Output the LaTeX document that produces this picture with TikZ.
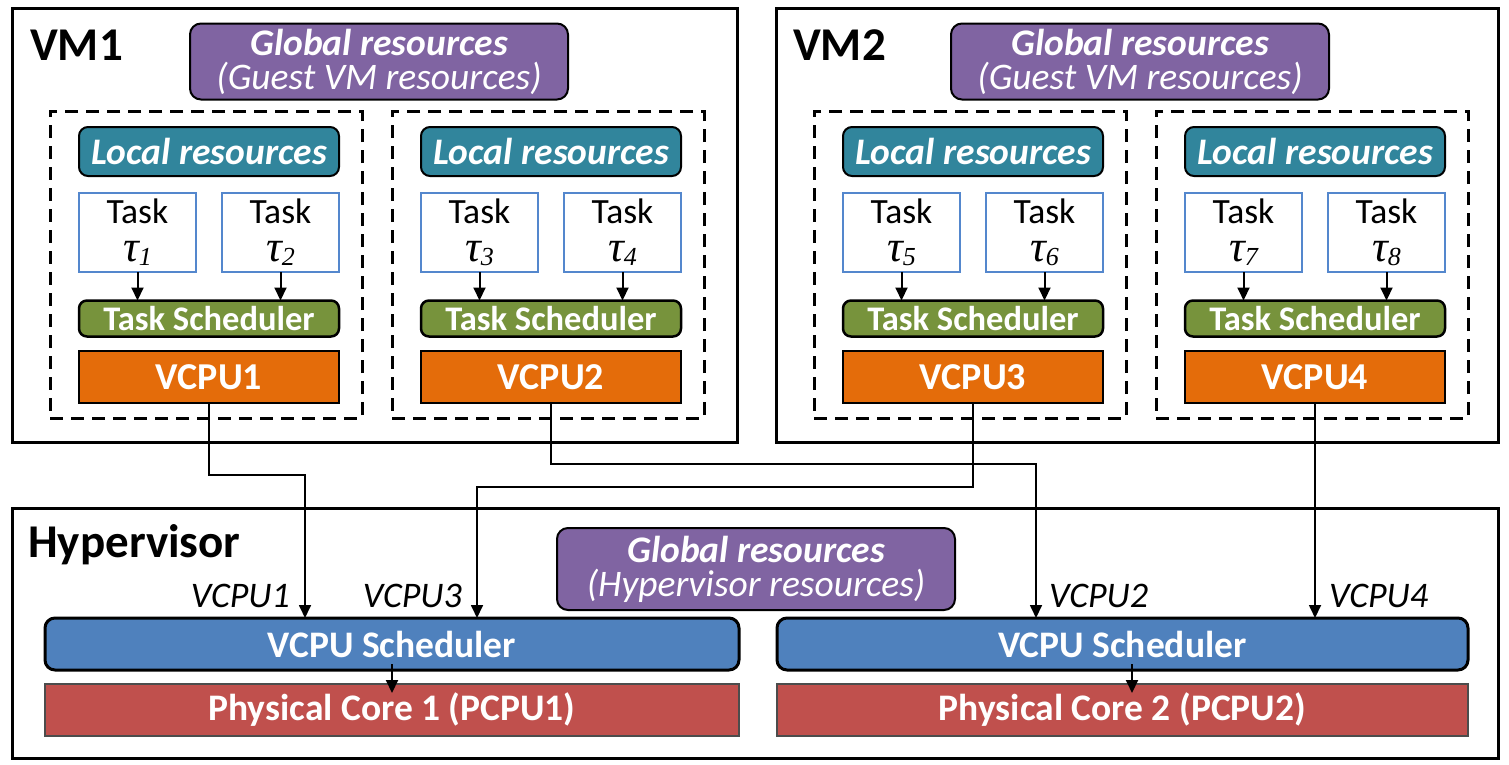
\documentclass[tikz,border=0pt]{standalone}
\usepackage{fontspec}
\setmainfont{Carlito}
\newfontfamily\tms{Liberation Serif}
\usetikzlibrary{arrows.meta}

\definecolor{glob}{RGB}{128,100,162}
\definecolor{locl}{RGB}{49,133,156}
\definecolor{tsch}{RGB}{119,147,60}
\definecolor{vcpu}{RGB}{228,108,10}
\definecolor{vsch}{RGB}{79,129,189}
\definecolor{pcpu}{RGB}{192,80,77}
\definecolor{tbord}{RGB}{84,135,205}

\newcommand{\fs}[1]{\fontsize{#1}{#1}\selectfont}

\tikzset{
  box/.style={inner sep=0pt, outer sep=0pt, anchor=center},
  outerbox/.style={box, draw=black, line width=3pt},
  dashbox/.style={box, draw=black, line width=3pt, dash pattern=on 13pt off 8pt},
  globbox/.style={box, draw=black, line width=2pt, fill=glob, rounded corners=11pt,
    minimum width=378pt, minimum height=76pt, text=white, align=center,
    font=\fontsize{37.5}{34}\selectfont},
  loclbox/.style={box, draw=black, line width=2pt, fill=locl, rounded corners=9pt,
    minimum width=260pt, minimum height=49pt, text=white,
    font=\fs{37.5}\bfseries\itshape},
  taskbox/.style={box, draw=tbord, line width=2pt, fill=white,
    minimum width=117pt, minimum height=79pt, align=center,
    font=\fontsize{35.5}{38}\selectfont},
  tschbox/.style={box, draw=black, line width=2.5pt, fill=tsch, rounded corners=8pt,
    minimum width=260pt, minimum height=36pt, text=white, font=\fs{34.5}\bfseries},
  vcpubox/.style={box, draw=black, line width=2.5pt, fill=vcpu,
    minimum width=260pt, minimum height=52pt, text=white, font=\fs{38}\bfseries},
  vschbox/.style={box, draw=black, line width=3pt, fill=vsch, rounded corners=10pt,
    minimum height=52pt, text=white, font=\fs{37.5}\bfseries},
  pcpubox/.style={box, draw=black!70, line width=1.5pt, fill=pcpu,
    minimum height=52pt, text=white, font=\fs{37.5}\bfseries},
  title/.style={inner sep=0pt, anchor=base west, font=\fs{47}\bfseries},
  vlabel/.style={inner sep=0pt, font=\fs{36}\itshape},
  tip/.style={-{Triangle[length=13pt,width=12pt]}},
  conn/.style={line width=1.7pt, tip},
  tarrow/.style={line width=2pt, tip},
}

\newcommand{\glob}[1]{{\bfseries\itshape Global resources}\\{\itshape (#1)}}
\newcommand{\task}[1]{Task\\{\tms\itshape\fontsize{44}{38}\selectfont τ\raisebox{-4pt}{\fontsize{26}{26}\selectfont #1}}}

\begin{document}
\begin{tikzpicture}[x=1pt,y=-1pt]
\useasboundingbox (0,0) rectangle (1509,764);

% outer frames
\node[outerbox, minimum width=725pt, minimum height=434pt] (vm1) at (374.5,225) {};
\node[outerbox, minimum width=722pt, minimum height=434pt] (vm2) at (1137,225) {};
\node[outerbox, minimum width=1486pt, minimum height=250pt] (hyp) at (755,633) {};

\node[title] (vm1t) at (30,60) {VM1};
\node[title] (vm2t) at (793,60) {VM2};
\node[title] (hypt) at (28,557) {Hypervisor};

% global resource boxes
\node[globbox] (g1) at (379,61.5) {\glob{Guest VM resources}};
\node[globbox] (g2) at (1140,61.5) {\glob{Guest VM resources}};
\node[globbox, minimum width=398pt, minimum height=82pt] (g3) at (756,569) {\glob{Hypervisor resources}};

% one column per VCPU: local resources, two tasks, task scheduler, VCPU
\foreach \L/\a/\b/\v in {79/1/2/1, 421/3/4/2, 843/5/6/3, 1185/7/8/4} {
  \node[dashbox, minimum width=312pt, minimum height=307pt] (col\v) at (\L+127,264.5) {};
  \node[loclbox] (lr\v) at (\L+130,151.5) {Local resources};
  \node[taskbox] (t\a) at (\L+58.5,232.5) {\task{\a}};
  \node[taskbox] (t\b) at (\L+201.5,232.5) {\task{\b}};
  \node[tschbox] (ts\v) at (\L+130,318.5) {Task Scheduler};
  \node[vcpubox] (vc\v) at (\L+130,377) {VCPU\v};
  \draw[tarrow] (t\a.south) -- (t\a.south |- ts\v.north);
  \draw[tarrow] (t\b.south) -- (t\b.south |- ts\v.north);
}

% hypervisor schedulers and physical cores
\node[vschbox, minimum width=694pt] (vs1) at (392,644) {VCPU Scheduler};
\node[vschbox, minimum width=691pt] (vs2) at (1122.5,644) {VCPU Scheduler};
\node[pcpubox, minimum width=694pt] (pc1) at (392,710) {Physical Core 1 (PCPU1)};
\node[pcpubox, minimum width=691pt] (pc2) at (1122.5,710) {Physical Core 2 (PCPU2)};

\coordinate (a1) at (392,664);
\coordinate (a2) at (1132,664);
\draw[tarrow, shorten >=-9pt] (a1) -- (a1 |- pc1.north);
\draw[tarrow, shorten >=-9pt] (a2) -- (a2 |- pc2.north);

% VCPU to scheduler mappings
\coordinate (k1) at (305,475);
\coordinate (k3) at (477,487);
\coordinate (k2) at (1036,464);
\draw[conn] (vc1.south) |- (k1) -- (k1 |- vs1.north);
\draw[conn] (vc3.south) |- (k3) -- (k3 |- vs1.north);
\draw[conn] (vc2.south) |- (k2) -- (k2 |- vs2.north);
\draw[conn] (vc4.south) -- (vc4.south |- vs2.north);

\node[vlabel, anchor=base east] (l1) at (290,607) {VCPU1};
\node[vlabel, anchor=base east] (l3) at (462,607) {VCPU3};
\node[vlabel, anchor=base west] (l2) at (1049,607) {VCPU2};
\node[vlabel, anchor=base west] (l4) at (1329,607) {VCPU4};
\end{tikzpicture}
\end{document}
